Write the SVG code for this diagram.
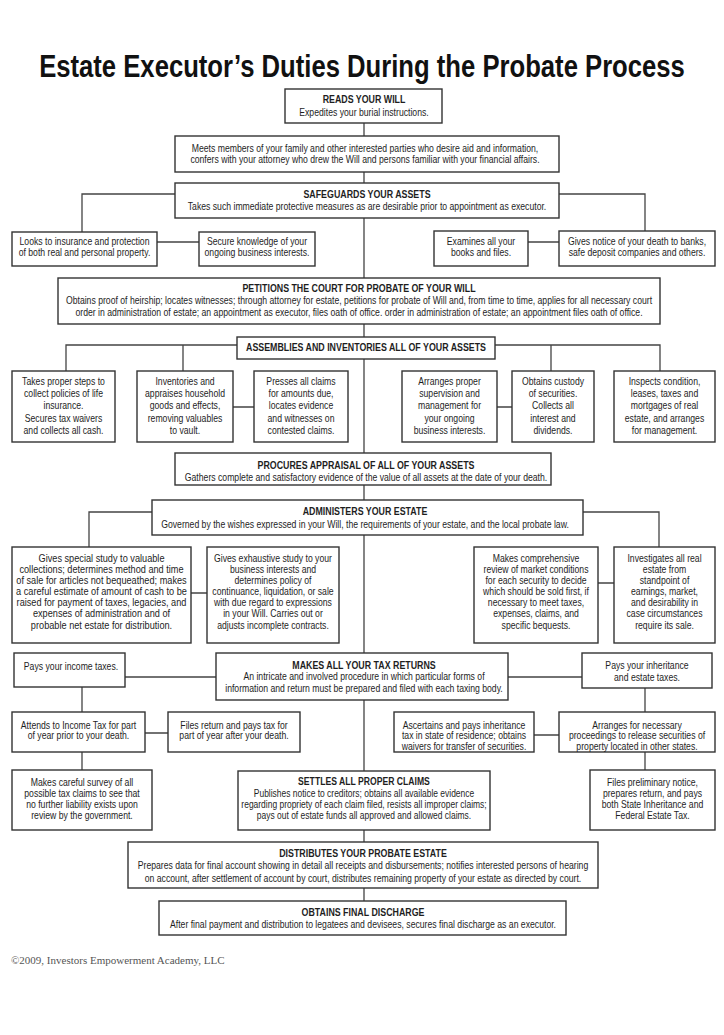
<svg xmlns="http://www.w3.org/2000/svg" width="724" height="1035" viewBox="0 0 724 1035">
<style>
.bx{fill:#fff;stroke:#333;stroke-width:1.4}
.cn{fill:none;stroke:#444;stroke-width:1.3}
.t{font-family:"Liberation Sans",Arial,sans-serif;font-size:10.2px;fill:#1e1e1e;text-anchor:middle}
.b{font-weight:bold;font-size:10.4px}
.big{font-size:10.8px}
.ttl{font-family:"Liberation Sans",Arial,sans-serif;font-size:31px;font-weight:bold;fill:#111;text-anchor:middle}
.cp{font-family:"Liberation Serif","Times New Roman",serif;font-size:11px;fill:#555}
</style>
<rect width="724" height="1035" fill="#fff"/>
<text class="ttl" transform="translate(362,77) scale(.828,1)" x="0" y="0">Estate Executor’s Duties During the Probate Process</text>

<g id="connectors">
<path class="cn" d="M364 123V136M364 172V183M364 218V278M364 324V337M364 359V453M364 485V500M364 535V653M364 700V771M364 830V842M364 888V901"/>
<path class="cn" d="M175 194H82V232M559 194H645V231M157 242H199M528 242H559"/>
<path class="cn" d="M237 345H66V371M183 345V371M495 345H660V371M551 345V371M233 407H254M497 407H512"/>
<path class="cn" d="M152 512H89V547M583 512H659V547M191 593H207M598 583H614"/>
<path class="cn" d="M216 677H125M508 677H582M82 687V712M645 688V712M145 733H168M534 735H559M82 752V770M645 752V770"/>
</g>

<g id="reads-will">
<rect class="bx" x="285" y="89" width="157" height="34"/>
<text class="t" transform="translate(364,103) scale(.85,1)"><tspan x="0" class="b">READS YOUR WILL</tspan><tspan x="0" dy="13">Expedites your burial instructions.</tspan></text>
</g>
<g id="meets-family">
<rect class="bx" x="175" y="136" width="384" height="36"/>
<text class="t" transform="translate(365,151.5) scale(.85,1)"><tspan x="0">Meets members of your family and other interested parties who desire aid and information,</tspan><tspan x="0" dy="12">confers with your attorney who drew the Will and persons familiar with your financial affairs.</tspan></text>
</g>
<g id="safeguards">
<rect class="bx" x="175" y="183" width="384" height="35"/>
<text class="t" transform="translate(367,198) scale(.85,1)"><tspan x="0" class="b">SAFEGUARDS YOUR ASSETS</tspan><tspan x="0" dy="12.5">Takes such immediate protective measures as are desirable prior to appointment as executor.</tspan></text>
</g>
<g id="looks-insurance">
<rect class="bx" x="12" y="232" width="145" height="34"/>
<text class="t" transform="translate(84.5,245) scale(.85,1)"><tspan x="0">Looks to insurance and protection</tspan><tspan x="0" dy="11.5">of both real and personal property.</tspan></text>
</g>
<g id="secure-knowledge">
<rect class="bx" x="199" y="232" width="116" height="34"/>
<text class="t" transform="translate(257,245) scale(.85,1)"><tspan x="0">Secure knowledge of your</tspan><tspan x="0" dy="11.5">ongoing business interests.</tspan></text>
</g>
<g id="examines-books">
<rect class="bx" x="434" y="231" width="94" height="35"/>
<text class="t" transform="translate(481,245) scale(.85,1)"><tspan x="0">Examines all your</tspan><tspan x="0" dy="11.5">books and files.</tspan></text>
</g>
<g id="gives-notice">
<rect class="bx" x="559" y="231" width="156" height="35"/>
<text class="t" transform="translate(637,245) scale(.85,1)"><tspan x="0">Gives notice of your death to banks,</tspan><tspan x="0" dy="11.5">safe deposit companies and others.</tspan></text>
</g>
<g id="petitions">
<rect class="bx" x="58" y="278" width="602" height="46"/>
<text class="t" transform="translate(359,292) scale(.85,1)"><tspan x="0" class="b">PETITIONS THE COURT FOR PROBATE OF YOUR WILL</tspan><tspan x="0" dy="12">Obtains proof of heirship; locates witnesses; through attorney for estate, petitions for probate of Will and, from time to time, applies for all necessary court</tspan><tspan x="0" dy="12">order in administration of estate; an appointment as executor, files oath of office. order in administration of estate; an appointment files oath of office.</tspan></text>
</g>
<g id="assemblies">
<rect class="bx" x="237" y="337" width="258" height="22"/>
<text class="t" transform="translate(366,350.5) scale(.85,1)"><tspan x="0" class="b">ASSEMBLIES AND INVENTORIES ALL OF YOUR ASSETS</tspan></text>
</g>
<g id="life-insurance">
<rect class="bx" x="12" y="371" width="103" height="71"/>
<text class="t" transform="translate(63.5,385) scale(.85,1)"><tspan x="0">Takes proper steps to</tspan><tspan x="0" dy="12.2">collect policies of life</tspan><tspan x="0" dy="12.2">insurance.</tspan><tspan x="0" dy="12.2">Secures tax waivers</tspan><tspan x="0" dy="12.2">and collects all cash.</tspan></text>
</g>
<g id="household-goods">
<rect class="bx" x="137" y="371" width="96" height="71"/>
<text class="t" transform="translate(185,385) scale(.85,1)"><tspan x="0">Inventories and</tspan><tspan x="0" dy="12.2">appraises household</tspan><tspan x="0" dy="12.2">goods and effects,</tspan><tspan x="0" dy="12.2">removing valuables</tspan><tspan x="0" dy="12.2">to vault.</tspan></text>
</g>
<g id="presses-claims">
<rect class="bx" x="254" y="371" width="94" height="71"/>
<text class="t" transform="translate(301,385) scale(.85,1)"><tspan x="0">Presses all claims</tspan><tspan x="0" dy="12.2">for amounts due,</tspan><tspan x="0" dy="12.2">locates evidence</tspan><tspan x="0" dy="12.2">and witnesses on</tspan><tspan x="0" dy="12.2">contested claims.</tspan></text>
</g>
<g id="arranges-supervision">
<rect class="bx" x="402" y="371" width="95" height="71"/>
<text class="t" transform="translate(449.5,385) scale(.85,1)"><tspan x="0">Arranges proper</tspan><tspan x="0" dy="12.2">supervision and</tspan><tspan x="0" dy="12.2">management for</tspan><tspan x="0" dy="12.2">your ongoing</tspan><tspan x="0" dy="12.2">business interests.</tspan></text>
</g>
<g id="custody-securities">
<rect class="bx" x="512" y="371" width="82" height="71"/>
<text class="t" transform="translate(553,385) scale(.85,1)"><tspan x="0">Obtains custody</tspan><tspan x="0" dy="12.2">of securities.</tspan><tspan x="0" dy="12.2">Collects all</tspan><tspan x="0" dy="12.2">interest and</tspan><tspan x="0" dy="12.2">dividends.</tspan></text>
</g>
<g id="inspects-condition">
<rect class="bx" x="614" y="371" width="101" height="71"/>
<text class="t" transform="translate(664.5,385) scale(.85,1)"><tspan x="0">Inspects condition,</tspan><tspan x="0" dy="12.2">leases, taxes and</tspan><tspan x="0" dy="12.2">mortgages of real</tspan><tspan x="0" dy="12.2">estate, and arranges</tspan><tspan x="0" dy="12.2">for management.</tspan></text>
</g>
<g id="procures-appraisal">
<rect class="bx" x="175" y="453" width="376" height="32"/>
<text class="t" transform="translate(366,468.5) scale(.85,1)"><tspan x="0" class="b">PROCURES APPRAISAL OF ALL OF YOUR ASSETS</tspan><tspan x="0" dy="12.5">Gathers complete and satisfactory evidence of the value of all assets at the date of your death.</tspan></text>
</g>
<g id="administers">
<rect class="bx" x="152" y="500" width="431" height="35"/>
<text class="t" transform="translate(365,515) scale(.85,1)"><tspan x="0" class="b">ADMINISTERS YOUR ESTATE</tspan><tspan x="0" dy="13">Governed by the wishes expressed in your Will, the requirements of your estate, and the local probate law.</tspan></text>
</g>
<g id="valuable-collections">
<rect class="bx" x="12" y="547" width="179" height="96"/>
<text class="t big" transform="translate(101.5,561.5) scale(.85,1)"><tspan x="0">Gives special study to valuable</tspan><tspan x="0" dy="11.2">collections; determines method and time</tspan><tspan x="0" dy="11.2">of sale for articles not bequeathed; makes</tspan><tspan x="0" dy="11.2">a careful estimate of amount of cash to be</tspan><tspan x="0" dy="11.2">raised for payment of taxes, legacies, and</tspan><tspan x="0" dy="11.2">expenses of administration and of</tspan><tspan x="0" dy="11.2">probable net estate for distribution.</tspan></text>
</g>
<g id="business-study">
<rect class="bx" x="207" y="547" width="132" height="96"/>
<text class="t" transform="translate(273,561.5) scale(.85,1)"><tspan x="0">Gives exhaustive study to your</tspan><tspan x="0" dy="11.2">business interests and</tspan><tspan x="0" dy="11.2">determines policy of</tspan><tspan x="0" dy="11.2">continuance, liquidation, or sale</tspan><tspan x="0" dy="11.2">with due regard to expressions</tspan><tspan x="0" dy="11.2">in your Will.  Carries out or</tspan><tspan x="0" dy="11.2">adjusts incomplete contracts.</tspan></text>
</g>
<g id="market-review">
<rect class="bx" x="474" y="547" width="124" height="96"/>
<text class="t" transform="translate(536,561.5) scale(.85,1)"><tspan x="0">Makes comprehensive</tspan><tspan x="0" dy="11.2">review of market conditions</tspan><tspan x="0" dy="11.2">for each security to decide</tspan><tspan x="0" dy="11.2">which should be sold first, if</tspan><tspan x="0" dy="11.2">necessary to meet taxes,</tspan><tspan x="0" dy="11.2">expenses, claims, and</tspan><tspan x="0" dy="11.2">specific bequests.</tspan></text>
</g>
<g id="real-estate">
<rect class="bx" x="614" y="547" width="101" height="96"/>
<text class="t" transform="translate(664.5,561.5) scale(.85,1)"><tspan x="0">Investigates all real</tspan><tspan x="0" dy="11.2">estate from</tspan><tspan x="0" dy="11.2">standpoint of</tspan><tspan x="0" dy="11.2">earnings, market,</tspan><tspan x="0" dy="11.2">and desirability in</tspan><tspan x="0" dy="11.2">case circumstances</tspan><tspan x="0" dy="11.2">require its sale.</tspan></text>
</g>
<g id="tax-returns">
<rect class="bx" x="216" y="653" width="292" height="47"/>
<text class="t" transform="translate(364,668.5) scale(.85,1)"><tspan x="0" class="b">MAKES ALL YOUR TAX RETURNS</tspan><tspan x="0" dy="12">An intricate and involved procedure in which particular forms of</tspan><tspan x="0" dy="11.5">information and return must be prepared and filed with each taxing body.</tspan></text>
</g>
<g id="income-taxes">
<rect class="bx" x="14" y="653" width="111" height="34"/>
<text class="t" transform="translate(71,670) scale(.85,1)"><tspan x="0">Pays your income taxes.</tspan></text>
</g>
<g id="inheritance-taxes">
<rect class="bx" x="582" y="653" width="130" height="35"/>
<text class="t" transform="translate(647,669) scale(.85,1)"><tspan x="0">Pays your inheritance</tspan><tspan x="0" dy="12">and estate taxes.</tspan></text>
</g>
<g id="income-prior">
<rect class="bx" x="12" y="712" width="133" height="40"/>
<text class="t" transform="translate(78.5,728.5) scale(.85,1)"><tspan x="0">Attends to Income Tax for part</tspan><tspan x="0" dy="11">of year prior to your death.</tspan></text>
</g>
<g id="income-after">
<rect class="bx" x="168" y="712" width="132" height="40"/>
<text class="t" transform="translate(234,728.5) scale(.85,1)"><tspan x="0">Files return and pays tax for</tspan><tspan x="0" dy="11">part of year after your death.</tspan></text>
</g>
<g id="inheritance-state">
<rect class="bx" x="394" y="712" width="140" height="40"/>
<text class="t" transform="translate(464,728.5) scale(.85,1)"><tspan x="0">Ascertains and pays inheritance</tspan><tspan x="0" dy="11">tax in state of residence; obtains</tspan><tspan x="0" dy="11">waivers for transfer of securities.</tspan></text>
</g>
<g id="other-states">
<rect class="bx" x="559" y="712" width="156" height="40"/>
<text class="t" transform="translate(637,728.5) scale(.85,1)"><tspan x="0">Arranges for necessary</tspan><tspan x="0" dy="11">proceedings to release securities of</tspan><tspan x="0" dy="11">property located in other states.</tspan></text>
</g>
<g id="survey-claims">
<rect class="bx" x="12" y="770" width="140" height="60"/>
<text class="t" transform="translate(82,785.5) scale(.85,1)"><tspan x="0">Makes careful survey of all</tspan><tspan x="0" dy="11.3">possible tax claims to see that</tspan><tspan x="0" dy="11.3">no further liability exists upon</tspan><tspan x="0" dy="11.3">review by the government.</tspan></text>
</g>
<g id="settles-claims">
<rect class="bx" x="238" y="771" width="252" height="59"/>
<text class="t" transform="translate(364,785) scale(.83,1)"><tspan x="0" class="b">SETTLES ALL PROPER CLAIMS</tspan><tspan x="0" dy="12">Publishes notice to creditors; obtains all available evidence</tspan><tspan x="0" dy="11">regarding propriety of each claim filed, resists all improper claims;</tspan><tspan x="0" dy="11">pays out of estate funds all approved and allowed claims.</tspan></text>
</g>
<g id="preliminary-notice">
<rect class="bx" x="590" y="770" width="125" height="60"/>
<text class="t" transform="translate(652.5,785.5) scale(.85,1)"><tspan x="0">Files preliminary notice,</tspan><tspan x="0" dy="11.3">prepares return, and pays</tspan><tspan x="0" dy="11.3">both State Inheritance and</tspan><tspan x="0" dy="11.3">Federal Estate Tax.</tspan></text>
</g>
<g id="distributes">
<rect class="bx" x="128" y="842" width="470" height="46"/>
<text class="t" transform="translate(363,857) scale(.85,1)"><tspan x="0" class="b">DISTRIBUTES YOUR PROBATE ESTATE</tspan><tspan x="0" dy="12.5">Prepares data for final account showing in detail all receipts and disbursements; notifies interested persons of hearing</tspan><tspan x="0" dy="12.5">on account, after settlement of account by court, distributes remaining property of your estate as directed by court.</tspan></text>
</g>
<g id="final-discharge">
<rect class="bx" x="159" y="901" width="407" height="34"/>
<text class="t" transform="translate(363,916) scale(.85,1)"><tspan x="0" class="b">OBTAINS FINAL DISCHARGE</tspan><tspan x="0" dy="12.5">After final payment and distribution to legatees and devisees, secures final discharge as an executor.</tspan></text>
</g>
<text class="cp" x="11" y="964">©2009, Investors Empowerment Academy, LLC</text>
</svg>
